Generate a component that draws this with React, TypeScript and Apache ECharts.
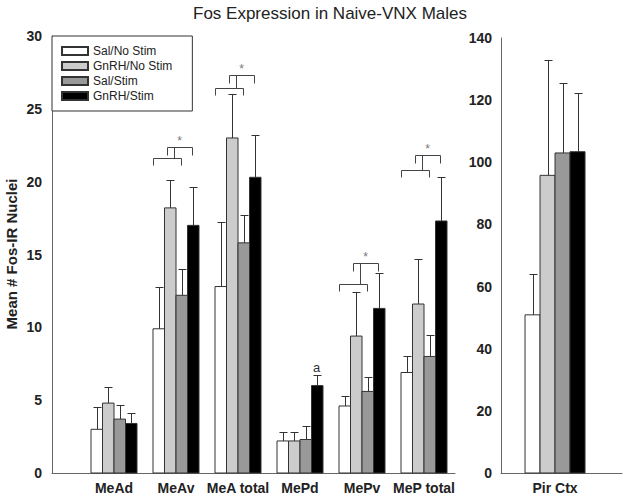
import React, { useEffect, useRef } from 'react';
import * as echarts from 'echarts';

const categories = ['MeAd', 'MeAv', 'MeA total', 'MePd', 'MePv', 'MeP total'];
const seriesNames = ['Sal/No Stim', 'GnRH/No Stim', 'Sal/Stim', 'GnRH/Stim'];
const yAxisTitle = 'Mean # Fos-IR Nuclei';
const chartTitle = 'Fos Expression in Naive-VNX Males';

const salNoStim = [3.0, 9.9, 12.8, 2.2, 4.6, 6.9];
const salNoStimErr = [4.5, 12.8, 17.2, 2.8, 5.3, 8.0];
const gnrhNoStim = [4.8, 18.2, 23.0, 2.2, 9.4, 11.6];
const gnrhNoStimErr = [5.9, 20.1, 26.0, 2.8, 12.4, 14.7];
const salStim = [3.7, 12.2, 15.8, 2.3, 5.6, 8.0];
const salStimErr = [4.7, 14.0, 17.7, 3.2, 6.6, 9.5];
const gnrhStim = [3.4, 17.0, 20.3, 6.0, 11.3, 17.3];
const gnrhStimErr = [4.1, 19.6, 23.2, 6.7, 13.7, 20.3];
const gnrhStimNotes = ['', '', '', 'a', '', ''];

const pirCategory = 'Pir Ctx';
const pirMeans = [50.9, 95.8, 103.0, 103.4];
const pirErr = [64.0, 132.9, 125.4, 122.4];

const bracketCats = [1, 2, 4, 5];
const bracketLow = [21.6, 26.4, 13.0, 20.8];
const bracketHigh = [22.4, 27.3, 14.4, 21.8];

const leftMeans = [salNoStim, gnrhNoStim, salStim, gnrhStim];
const leftErrs = [salNoStimErr, gnrhNoStimErr, salStimErr, gnrhStimErr];

const COLORS = ['#ffffff', '#cccccc', '#999999', '#000000'];
const FONT = 'Liberation Sans, Arial, sans-serif';
const BW_L = 11.5;
const BW_R = 15;

function barRender(idx: number, bw: number, color: string) {
  return (params: any, api: any) => {
    const x = api.value(0);
    const v = api.value(1);
    const p0 = api.coord([x, 0]);
    const p1 = api.coord([x, v]);
    const left = p0[0] + (idx - 2) * bw;
    return {
      type: 'rect',
      shape: { x: left, y: p1[1], width: bw, height: p0[1] - p1[1] },
      style: { fill: color, stroke: '#333', lineWidth: 1 },
    };
  };
}

function errRender(idx: number, bw: number, cap: number, notes?: string[]) {
  return (params: any, api: any) => {
    const x = api.value(0);
    const m = api.value(1);
    const e = api.value(2);
    const p0 = api.coord([x, m]);
    const p1 = api.coord([x, e]);
    const cx = Math.round(p0[0] + (idx - 1.5) * bw) + 0.5;
    const ty = Math.round(p1[1]) + 0.5;
    const st = { stroke: '#333', lineWidth: 1 };
    const children: any[] = [
      { type: 'line', shape: { x1: cx, y1: p0[1], x2: cx, y2: ty }, style: st },
      { type: 'line', shape: { x1: cx - cap / 2, y1: ty, x2: cx + cap / 2, y2: ty }, style: st },
    ];
    const note = notes ? notes[params.dataIndex] : '';
    if (note) {
      children.push({
        type: 'text',
        style: {
          text: note, x: cx - 1, y: ty - 2, textAlign: 'center', textVerticalAlign: 'bottom',
          fontSize: 13, fontFamily: FONT, fill: '#333',
        },
      });
    }
    return { type: 'group', children };
  };
}

function bracketRender(params: any, api: any) {
  const x = api.value(0);
  const lo = api.value(1);
  const hi = api.value(2);
  const pl = api.coord([x, lo]);
  const ph = api.coord([x, hi]);
  const c = pl[0];
  const yl = Math.round(pl[1]) + 0.5;
  const yh = Math.round(ph[1]) + 0.5;
  const st = { stroke: '#444', lineWidth: 1, fill: 'none' };
  const X = (o: number) => Math.round(c + o) + 0.5;
  return {
    type: 'group',
    children: [
      { type: 'polyline', shape: { points: [[X(-23), yl + 7], [X(-23), yl], [X(4.5), yl], [X(4.5), yl + 7]] }, style: st },
      { type: 'polyline', shape: { points: [[X(-9), yh + 8], [X(-9), yh], [X(16), yh], [X(16), yh + 8]] }, style: st },
      { type: 'line', shape: { x1: X(-2.5), y1: yl, x2: X(-2.5), y2: yh }, style: st },
      {
        type: 'text',
        style: {
          text: '*', x: X(3), y: yh - 1, textAlign: 'center', textVerticalAlign: 'bottom',
          fontSize: 12, fontFamily: FONT, fill: '#777',
        },
      },
    ],
  };
}

export default function App() {
  const ref = useRef<HTMLDivElement>(null);

  useEffect(() => {
    if (!ref.current) return;
    const chart = echarts.init(ref.current, undefined, { renderer: 'svg' });

    const series: any[] = [];
    leftMeans.forEach((arr, i) => {
      series.push({
        type: 'custom',
        name: seriesNames[i],
        xAxisIndex: 0,
        yAxisIndex: 0,
        itemStyle: { color: COLORS[i], borderColor: '#333', borderWidth: 1 },
        renderItem: barRender(i, BW_L, COLORS[i]),
        data: arr.map((v, k) => [k, v]),
        z: 2,
      });
    });
    pirMeans.forEach((v, i) => {
      series.push({
        type: 'custom',
        name: seriesNames[i],
        xAxisIndex: 1,
        yAxisIndex: 1,
        itemStyle: { color: COLORS[i], borderColor: '#333', borderWidth: 1 },
        renderItem: barRender(i, BW_R, COLORS[i]),
        data: [[0, v]],
        z: 2,
      });
    });
    leftMeans.forEach((arr, i) => {
      series.push({
        type: 'custom',
        xAxisIndex: 0,
        yAxisIndex: 0,
        renderItem: errRender(i, BW_L, 8, i === 3 ? gnrhStimNotes : undefined),
        data: arr.map((v, k) => [k, v, leftErrs[i][k]]),
        z: 5,
      });
    });
    pirMeans.forEach((v, i) => {
      series.push({
        type: 'custom',
        xAxisIndex: 1,
        yAxisIndex: 1,
        renderItem: errRender(i, BW_R, 8),
        data: [[0, v, pirErr[i]]],
        z: 5,
      });
    });
    series.push({
      type: 'custom',
      xAxisIndex: 0,
      yAxisIndex: 0,
      renderItem: bracketRender,
      data: bracketCats.map((c, k) => [c, bracketLow[k], bracketHigh[k]]),
      z: 6,
    });

    const axisLine = { show: true, onZero: false, lineStyle: { color: '#666', width: 1 } };
    const tickLabel = { color: '#222', fontSize: 14, fontWeight: 'bold', fontFamily: FONT };

    chart.setOption({
      animation: false,
      backgroundColor: '#ffffff',
      textStyle: { fontFamily: FONT },
      graphic: [
        {
          type: 'text',
          x: 330,
          y: 13,
          style: {
            text: chartTitle,
            textAlign: 'center',
            textVerticalAlign: 'middle',
            fontSize: 17,
            fontFamily: FONT,
            fill: '#222',
          },
        },
        {
          type: 'text',
          x: 11,
          y: 254,
          rotation: Math.PI / 2,
          style: {
            text: yAxisTitle,
            textAlign: 'center',
            textVerticalAlign: 'middle',
            fontSize: 15,
            fontWeight: 'bold',
            fontFamily: FONT,
            fill: '#222',
          },
        },
      ],
      legend: {
        data: seriesNames,
        orient: 'vertical',
        left: 52,
        top: 36,
        padding: [8, 20, 8, 9],
        itemWidth: 26,
        itemHeight: 8,
        itemGap: 1,
        icon: 'rect',
        borderColor: '#333',
        borderWidth: 1,
        backgroundColor: '#fff',
        selectedMode: false,
        textStyle: { fontSize: 12, color: '#222', fontFamily: FONT, lineHeight: 14 },
      },
      grid: [
        { left: 52, top: 36, width: 403, height: 437, containLabel: false, outerBoundsMode: 'none' },
        { left: 501, top: 38, width: 121, height: 435, containLabel: false, outerBoundsMode: 'none' },
      ],
      xAxis: [
        {
          type: 'value',
          gridIndex: 0,
          min: -1,
          max: 5.5,
          interval: 1,
          axisLine,
          axisTick: { show: false },
          splitLine: { show: false },
          axisLabel: {
            ...tickLabel,
            margin: 8,
            formatter: (v: number) => {
              const k = Math.round(v);
              return Math.abs(v - k) < 1e-6 && k >= 0 && k < categories.length ? categories[k] : '';
            },
          },
        },
        {
          type: 'value',
          gridIndex: 1,
          min: -1,
          max: 1.24,
          interval: 1,
          axisLine,
          axisTick: { show: false },
          splitLine: { show: false },
          axisLabel: {
            ...tickLabel,
            margin: 8,
            formatter: (v: number) => (Math.abs(v) < 1e-6 ? pirCategory : ''),
          },
        },
      ],
      yAxis: [
        {
          type: 'value',
          gridIndex: 0,
          min: 0,
          max: 30,
          interval: 5,
          axisLine,
          axisTick: { show: false },
          splitLine: { show: false },
          axisLabel: { ...tickLabel, margin: 10 },
        },
        {
          type: 'value',
          gridIndex: 1,
          min: 0,
          max: 140,
          interval: 20,
          axisLine,
          axisTick: { show: false },
          splitLine: { show: false },
          axisLabel: { ...tickLabel, margin: 9 },
        },
      ],
      series,
    });

    return () => chart.dispose();
  }, []);

  return (
    <div
      ref={ref}
      style={{ position: 'absolute', left: 0, top: 0, width: 624, height: 499, background: '#fff' }}
    />
  );
}
